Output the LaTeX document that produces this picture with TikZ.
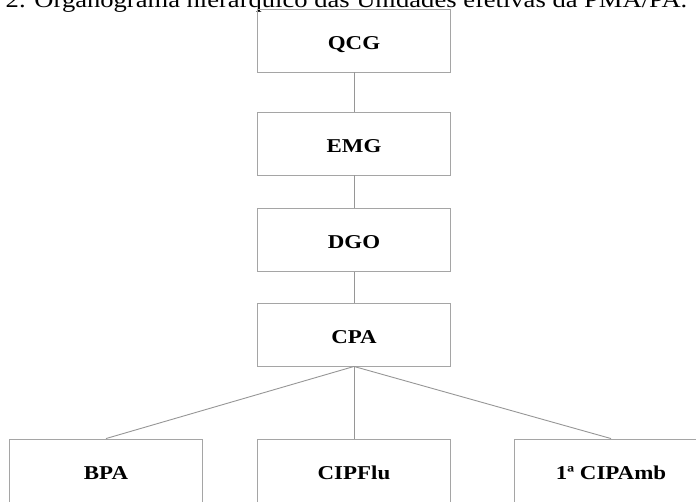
\documentclass[tikz,border=0pt]{standalone}
\usepackage{fontspec}
\setmainfont{Liberation Serif}[FakeStretch = 1.17]
\usepackage{xcolor}
\usepackage{tikz}
\usetikzlibrary{positioning}
\definecolor{boxgray}{RGB}{165,165,165}
\definecolor{linegray}{RGB}{150,150,150}
\tikzset{
unit box/.style = { rectangle, draw = boxgray, fill = none, line width = 0.9pt, minimum width = 193pt, minimum height = 63pt, text height = 17pt, text depth = 0pt, font = \fontsize{19.6}{22}\selectfont\bfseries },
link/.style = { draw = linegray, line width = 0.9pt },
caption text/.style = { black, anchor = base, inner sep = 0pt, font = \fontsize{22.7}{26}\selectfont },
}

\begin{document}
\begin{tikzpicture}[x = 1pt, y = -1pt]
    \useasboundingbox (0, 0) rectangle (696, 501);
    \node[caption text] (title) at (346.5, 7) {2. Organograma hierárquico das Unidades efetivas da PMA/PA.};
    \node[unit box] (qcg) at (354, 40.5) {QCG};
    \node[unit box] (emg) at (354, 143.5) {EMG};
    \node[unit box] (dgo) at (354, 240) {DGO};
    \node[unit box] (cpa) at (354, 334.5) {CPA};
    \node[unit box] (bpa) at (106, 470.5) {BPA};
    \node[unit box] (cipflu) at (354, 470.5) {CIPFlu};
    \node[unit box] (cipamb) at (611, 470.5) {1ª CIPAmb};
    \path[link] (qcg) -- (emg);
    \path[link] (emg) -- (dgo);
    \path[link] (dgo) -- (cpa);
    \path[link] (cpa.south) -- (bpa.north);
    \path[link] (cpa.south) -- (cipflu.north);
    \path[link] (cpa.south) -- (cipamb.north);
\end{tikzpicture}
\end{document}
